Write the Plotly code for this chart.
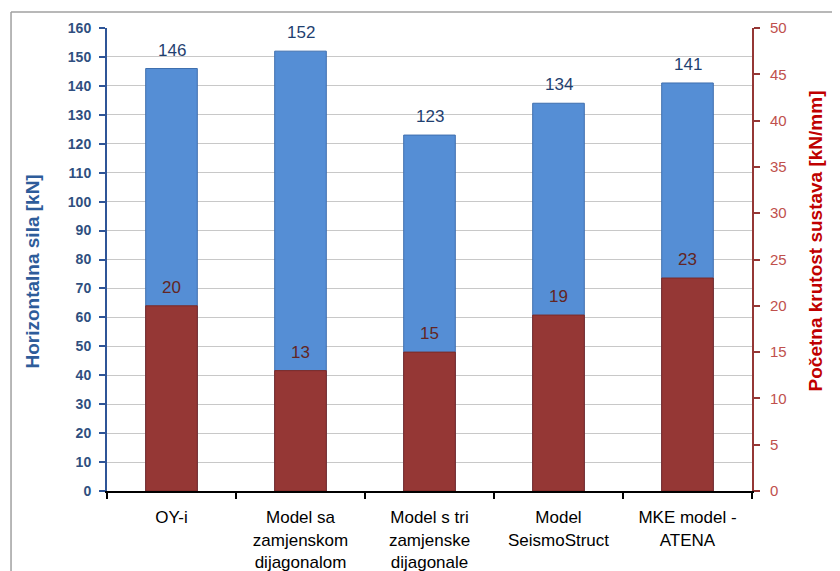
import plotly.graph_objects as go

categories = ["OY-i", "Model sa<br>zamjenskom<br>dijagonalom", "Model s tri<br>zamjenske<br>dijagonale",
              "Model<br>SeismoStruct", "MKE model -<br>ATENA"]
sila = [146, 152, 123, 134, 141]
krutost = [20, 13, 15, 19, 23]
left_ticks = list(range(0, 161, 10))
right_ticks = list(range(0, 51, 5))

FONT = "Liberation Sans Narrow, Arial Narrow, Liberation Sans, Arial"

fig = go.Figure()
fig.add_trace(go.Bar(
    x=categories, y=sila, width=0.4, name="Horizontalna sila",
    marker=dict(color="#558ed5", line=dict(color="#3f6fae", width=1)),
    yaxis="y"))
fig.add_trace(go.Bar(
    x=categories, y=krutost, width=0.4, name="Početna krutost",
    marker=dict(color="#953735", line=dict(color="#7a2a28", width=1)),
    yaxis="y2"))

for c, v in zip(categories, sila):
    fig.add_annotation(x=c, y=v, xref="x", yref="y", text=str(v), showarrow=False,
                       yanchor="bottom", yshift=7,
                       font=dict(family=FONT, size=17, color="#1f3f70"))
for c, v in zip(categories, krutost):
    fig.add_annotation(x=c, y=v, xref="x", yref="y2", text=str(v), showarrow=False,
                       yanchor="bottom", yshift=7,
                       font=dict(family=FONT, size=17, color="#632523"))

fig.update_layout(
    width=840, height=571,
    margin=dict(l=99, r=96, t=20, b=88, autoexpand=False),
    paper_bgcolor="white", plot_bgcolor="white",
    barmode="overlay", showlegend=False,
    xaxis=dict(
        automargin=False,
        showline=True, linecolor="#000000", linewidth=2,
        ticks="outside", tickson="boundaries", ticklen=6, tickcolor="#000000", tickwidth=2,
        ticklabelstandoff=10,
        tickfont=dict(family=FONT, size=17, color="#000000"),
        showgrid=False),
    yaxis=dict(
        automargin=False,
        range=[0, 160], tickvals=left_ticks, ticks="outside", ticklen=6,
        tickcolor="#2f5597", tickwidth=2, ticklabelstandoff=5,
        showline=True, linecolor="#2f5597", linewidth=2,
        showgrid=True, gridcolor="#c8c8c8", gridwidth=1,
        tickfont=dict(family=FONT, size=14, color="#2f4f80", weight="bold"),
        zeroline=False),
    yaxis2=dict(
        automargin=False,
        range=[0, 50], tickvals=right_ticks, overlaying="y", side="right",
        ticks="outside", ticklen=6, tickcolor="#953735", tickwidth=2,
        ticklabelstandoff=7,
        showline=True, linecolor="#953735", linewidth=2,
        showgrid=False, zeroline=False,
        tickfont=dict(family=FONT, size=15, color="#c0504d")),
)

fig.add_annotation(text="<b>Horizontalna sila [kN]</b>", xref="paper", yref="paper",
                   x=-0.1147, y=0.474, textangle=-90, showarrow=False,
                   xanchor="center", yanchor="middle",
                   font=dict(family=FONT, size=19, color="#2e5c9a"))
fig.add_annotation(text="<b>Početna krutost sustava [kN/mm]</b>", xref="paper", yref="paper",
                   x=1.0977, y=0.539, textangle=-90, showarrow=False,
                   xanchor="center", yanchor="middle",
                   font=dict(family=FONT, size=19, color="#c00000"))

fig.add_shape(type="line", xref="paper", yref="paper", x0=-0.1488, y0=1.0345, x1=1.2, y1=1.0345,
              line=dict(color="#a0a0a0", width=1.5))
fig.add_shape(type="line", xref="paper", yref="paper", x0=-0.1488, y0=1.0345, x1=-0.1488, y1=-0.2,
              line=dict(color="#a0a0a0", width=1.5))

fig.write_html("out.html")
